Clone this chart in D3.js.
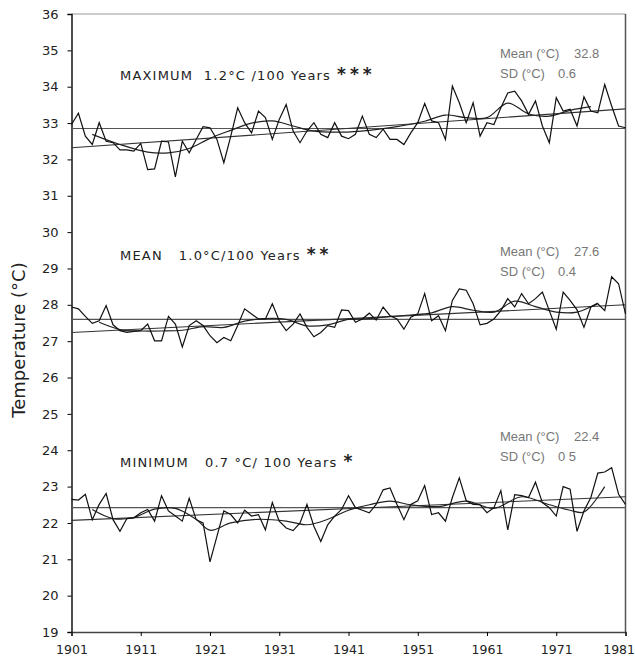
<!DOCTYPE html>
<html><head><meta charset="utf-8">
<script src="https://cdn.jsdelivr.net/npm/d3@7/dist/d3.min.js"></script>
<style>body{margin:0;background:#fff}</style>
</head><body><svg id="c" width="635" height="667"></svg>
<script>
const years = d3.range(1901, 1982);
const maxTemp = [32.96,33.27,32.64,32.41,33.01,32.50,32.46,32.26,32.26,32.23,32.44,31.72,31.74,32.50,32.48,31.52,32.50,32.18,32.55,32.90,32.87,32.55,31.91,32.64,33.42,33.01,32.73,33.33,33.15,32.55,33.10,33.51,32.78,32.46,32.78,33.01,32.69,32.60,33.01,32.64,32.57,32.69,33.19,32.69,32.60,32.83,32.55,32.55,32.41,32.73,33.01,33.54,33.06,33.01,32.55,34.02,33.56,33.01,33.56,32.64,33.01,32.96,33.42,33.83,33.88,33.61,33.24,33.61,32.92,32.46,33.70,33.33,33.38,32.92,33.72,33.33,33.28,34.06,33.47,32.92,32.87];
const meanTemp = [27.94,27.89,27.68,27.49,27.56,27.98,27.45,27.29,27.24,27.27,27.29,27.47,27.01,27.01,27.68,27.47,26.84,27.43,27.56,27.43,27.15,26.96,27.10,27.01,27.43,27.89,27.75,27.61,27.61,28.03,27.56,27.29,27.47,27.75,27.38,27.12,27.24,27.43,27.38,27.86,27.84,27.52,27.61,27.77,27.58,27.94,27.70,27.61,27.33,27.66,27.75,28.31,27.56,27.70,27.29,28.12,28.44,28.40,28.03,27.45,27.49,27.61,27.84,28.17,27.94,28.31,28.03,28.17,28.35,27.84,27.33,28.35,28.12,27.86,27.38,27.94,28.03,27.84,28.77,28.58,27.75];
const minTemp = [22.65,22.63,22.79,22.09,22.51,22.81,22.09,21.77,22.12,22.14,22.28,22.37,22.05,22.75,22.33,22.19,22.05,22.68,22.09,22.00,20.93,21.63,22.33,22.23,22.00,22.35,22.19,22.23,21.81,22.56,22.05,21.86,21.79,22.00,22.51,21.91,21.49,21.95,22.19,22.37,22.75,22.42,22.35,22.28,22.51,22.91,22.96,22.51,22.09,22.51,22.61,23.03,22.23,22.28,22.05,22.70,23.24,22.61,22.51,22.50,22.28,22.42,22.89,21.81,22.78,22.75,22.70,23.12,22.56,22.42,22.19,23.00,22.93,21.77,22.33,22.70,23.37,23.40,23.52,22.79,22.51];

const maxSmoothYears = [1904,1908,1912,1915,1918,1921,1924,1927,1930,1933,1936,1940,1944,1948,1952,1955,1958,1961,1964,1967,1970,1973,1976];
const maxSmooth = [32.69,32.41,32.20,32.18,32.30,32.58,32.80,33.00,33.06,32.92,32.78,32.75,32.80,32.90,33.05,33.22,33.15,33.15,33.55,33.25,33.19,33.35,33.45];
const meanSmoothYears = [1905,1908,1911,1914,1917,1920,1923,1926,1929,1932,1935,1938,1941,1944,1947,1950,1953,1956,1959,1962,1965,1968,1971,1974,1977];
const meanSmooth = [27.52,27.32,27.28,27.28,27.30,27.40,27.38,27.55,27.62,27.60,27.42,27.45,27.60,27.62,27.68,27.72,27.78,27.95,27.85,27.80,28.10,27.95,27.80,27.80,28.05];
const minSmoothYears = [1904,1907,1910,1913,1916,1919,1921,1924,1928,1932,1935,1938,1941,1944,1947,1950,1954,1958,1962,1966,1970,1973,1975,1978];
const minSmooth = [22.37,22.12,22.15,22.38,22.40,22.10,21.80,22.00,22.10,22.05,21.95,22.10,22.35,22.50,22.60,22.50,22.45,22.60,22.40,22.72,22.50,22.35,22.30,23.00];

const seriesMeans = [32.85, 27.6, 22.42];
const trendStart = [32.32, 27.24, 22.07];
const trendEnd = [33.39, 28.0, 22.72];
const seriesTitles = ["MAXIMUM  1.2°C /100 Years", "MEAN   1.0°C/100 Years", "MINIMUM   0.7 °C/ 100 Years"];
const seriesStars = ["***", "**", "*"];
const statMean = ["32.8", "27.6", "22.4"];
const statSD = ["0.6", "0.4", "0 5"];
const titleYLabel = [34.18, 29.23, 23.54];
const statYLabel = [34.78, 29.35, 24.25];
const yTicks = d3.range(19, 37);
const xTicks = [1901,1911,1921,1931,1941,1951,1961,1971,1981];

const svg = d3.select("#c");
const x = d3.scaleLinear().domain([1901, 1981]).range([71.5, 625.5]);
const y = d3.scaleLinear().domain([19, 36]).range([632, 14]);
const font = "'DejaVu Sans', sans-serif";

// frame
svg.append("line").attr("x1", x(1901)).attr("x2", x(1981)).attr("y1", y(36)).attr("y2", y(36)).attr("stroke", "#999").attr("stroke-width", 1.2);
svg.append("line").attr("x1", x(1981)).attr("x2", x(1981)).attr("y1", y(36)).attr("y2", y(19)).attr("stroke", "#555").attr("stroke-width", 1.5);

const yAxis = svg.append("g").attr("transform", `translate(${x(1901)},0)`)
  .call(d3.axisLeft(y).tickValues(yTicks).tickSize(4).tickFormat(d3.format("d")));
yAxis.select(".domain").attr("stroke-width", 1.6).attr("stroke", "#222");
yAxis.selectAll("text").attr("font-family", font).attr("font-size", 13).attr("fill", "#222").attr("dx", "-6");

const xAxis = svg.append("g").attr("transform", `translate(0,${y(19)})`)
  .call(d3.axisBottom(x).tickValues(xTicks).tickSize(4).tickFormat(d3.format("d")));
xAxis.select(".domain").attr("stroke-width", 1.5).attr("stroke", "#444");
xAxis.selectAll("text").attr("font-family", font).attr("font-size", 12.5).attr("fill", "#222").attr("dy", "1.2em")
  .attr("text-anchor", d => d === 1981 ? "end" : "middle").attr("dx", d => d === 1981 ? 9 : 0);

svg.append("text").attr("transform", `translate(25,340) rotate(-90)`)
  .attr("text-anchor", "middle").attr("font-family", font).attr("font-size", 18).attr("fill", "#222")
  .text("Temperature (°C)");

const allData = [maxTemp, meanTemp, minTemp];
const smoothYears = [maxSmoothYears, meanSmoothYears, minSmoothYears];
const smoothVals = [maxSmooth, meanSmooth, minSmooth];

const raw = d3.line().x((d, i) => x(years[i])).y(d => y(d));
allData.forEach((arr, k) => {
  svg.append("line").attr("x1", x(1901)).attr("x2", x(1981)).attr("y1", y(seriesMeans[k])).attr("y2", y(seriesMeans[k]))
    .attr("stroke", "#555").attr("stroke-width", 1.1);
  svg.append("line").attr("x1", x(1901)).attr("x2", x(1981)).attr("y1", y(trendStart[k])).attr("y2", y(trendEnd[k]))
    .attr("stroke", "#333").attr("stroke-width", 1.1);
  const sm = d3.line().curve(d3.curveCatmullRom.alpha(0.5)).x((d, i) => x(smoothYears[k][i])).y(d => y(d));
  svg.append("path").attr("d", sm(smoothVals[k])).attr("fill", "none").attr("stroke", "#222").attr("stroke-width", 1.2);
  svg.append("path").attr("d", raw(arr)).attr("fill", "none").attr("stroke", "#111").attr("stroke-width", 1.2);

  const t = svg.append("text").attr("x", 120).attr("y", y(titleYLabel[k])).attr("font-family", font).attr("font-size", 13)
    .attr("fill", "#222").attr("letter-spacing", 1.2).style("white-space", "pre");
  t.append("tspan").text(seriesTitles[k]);
  t.append("tspan").attr("dx", 6).attr("font-size", 17).attr("font-weight", "bold").attr("letter-spacing", 4).text(seriesStars[k]);

  const g = svg.append("g").attr("font-family", "'Liberation Sans', Arial, sans-serif").attr("font-size", 13).attr("fill", "#777");
  g.append("text").attr("x", 500).attr("y", y(statYLabel[k])).text("Mean (°C)");
  g.append("text").attr("x", 574).attr("y", y(statYLabel[k])).text(statMean[k]);
  g.append("text").attr("x", 500).attr("y", y(statYLabel[k]) + 20).text("SD (°C)");
  g.append("text").attr("x", 558).attr("y", y(statYLabel[k]) + 20).text(statSD[k]);
});
</script></body></html>
